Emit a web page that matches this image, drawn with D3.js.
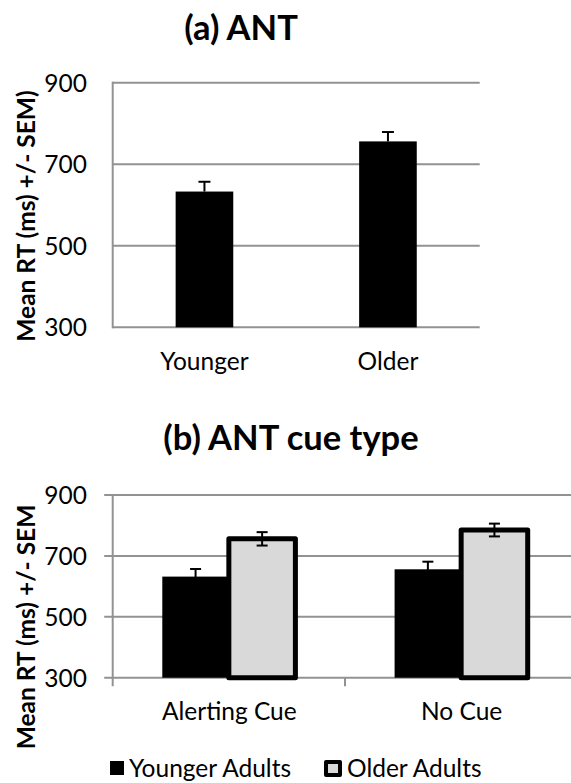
<!DOCTYPE html>
<html>
<head>
<meta charset="utf-8">
<script src="https://cdn.jsdelivr.net/npm/d3@7"></script>
<style>
  html, body { margin: 0; padding: 0; background: #fff; }
  svg { display: block; }
  text { font-family: Lato, "Open Sans", sans-serif; fill: #000; }
</style>
</head>
<body>
<svg id="chart" width="571" height="783"></svg>
<script>
// ---- Data ----
const antGroups = ["Younger", "Older"];
const antMeans = [633, 756];
const antSEM = [24, 23];

const cueTypes = ["Alerting Cue", "No Cue"];
const cueSeries = ["Younger Adults", "Older Adults"];
const youngerCueMeans = [632, 656];
const youngerCueSEM = [25, 25];
const olderCueMeans = [756, 785];
const olderCueSEM = [22, 21];

const yTicks = [300, 500, 700, 900];
const yDomain = [300, 900];

// ---- Styling ----
const GRID = "#929292";
const OLDER_FILL = "#d9d9d9";
const LABEL_SIZE = 24.5;
const TITLE_SIZE = 34.5;
const AXIS_TITLE_SIZE = 24.5;

const svg = d3.select("#chart");

function yAxisText(g, y, x) {
  g.selectAll(null).data(yTicks).join("text")
    .attr("x", x)
    .attr("y", d => y(d))
    .attr("dy", "0.36em")
    .attr("text-anchor", "end")
    .style("font-size", LABEL_SIZE + "px")
    .text(d => d);
}

function errorBars(g, xs, ys, sems, y, capW, upOnly) {
  const data = xs.map((x, i) => ({ x, v: ys[i], e: sems[i] }));
  const eg = g.append("g").attr("stroke", "#000").attr("stroke-width", 2).attr("fill", "none");
  eg.selectAll(null).data(data).join("line")
    .attr("x1", d => d.x).attr("x2", d => d.x)
    .attr("y1", d => y(upOnly ? d.v : d.v - d.e))
    .attr("y2", d => y(d.v + d.e));
  eg.selectAll(null).data(data).join("line")
    .attr("x1", d => d.x - capW / 2).attr("x2", d => d.x + capW / 2)
    .attr("y1", d => y(d.v + d.e)).attr("y2", d => y(d.v + d.e));
  if (!upOnly) {
    eg.selectAll(null).data(data).join("line")
      .attr("x1", d => d.x - capW / 2).attr("x2", d => d.x + capW / 2)
      .attr("y1", d => y(d.v - d.e)).attr("y2", d => y(d.v - d.e));
  }
}

// ================= Panel (a) =================
{
  const left = 112.7, right = 479.7, top = 82.7, bottom = 327.3;
  const g = svg.append("g");
  const x = d3.scaleBand().domain(antGroups).range([left, right]).padding(0);
  const y = d3.scaleLinear().domain(yDomain).range([bottom, top]);
  const barW = x.bandwidth() * 0.314;

  g.append("text")
    .attr("x", 241).attr("y", 40)
    .attr("text-anchor", "middle")
    .style("font-size", TITLE_SIZE + "px").style("font-weight", 700)
    .text("(a) ANT");

  // gridlines
  g.append("g").selectAll("line").data(yTicks).join("line")
    .attr("x1", left).attr("x2", right)
    .attr("y1", d => y(d)).attr("y2", d => y(d))
    .attr("stroke", GRID).attr("stroke-width", 2);
  g.append("line")
    .attr("x1", left).attr("x2", left).attr("y1", top - 1).attr("y2", bottom + 1)
    .attr("stroke", GRID).attr("stroke-width", 2);

  yAxisText(g, y, 87);

  g.append("text")
    .attr("transform", `translate(35,216) rotate(-90)`)
    .attr("text-anchor", "middle")
    .style("font-size", AXIS_TITLE_SIZE + "px").style("font-weight", 700)
    .text("Mean RT (ms) +/- SEM)");

  // bars
  const cx = antGroups.map(d => x(d) + x.bandwidth() / 2);
  g.append("g").selectAll("rect").data(antGroups).join("rect")
    .attr("x", (d, i) => cx[i] - barW / 2)
    .attr("width", barW)
    .attr("y", (d, i) => y(antMeans[i]))
    .attr("height", (d, i) => y(yDomain[0]) - y(antMeans[i]))
    .attr("fill", "#000");

  errorBars(g, cx, antMeans, antSEM, y, 12, true);

  // category labels
  g.append("g").selectAll("text").data(antGroups).join("text")
    .attr("x", (d, i) => cx[i]).attr("y", 370)
    .attr("text-anchor", "middle")
    .style("font-size", LABEL_SIZE + "px")
    .text(d => d);
}

// ================= Panel (b) =================
{
  const left = 112.7, right = 577.3, top = 495, bottom = 677.7;
  const g = svg.append("g");
  const x0 = d3.scaleBand().domain(cueTypes).range([left, right]).padding(0);
  const groupW = x0.bandwidth() * 0.573;
  const x1 = d3.scaleBand().domain(cueSeries).range([0, groupW]).padding(0);
  const y = d3.scaleLinear().domain(yDomain).range([bottom, top]);

  g.append("text")
    .attr("x", 291).attr("y", 450)
    .attr("text-anchor", "middle")
    .style("font-size", TITLE_SIZE + "px").style("font-weight", 700)
    .text("(b) ANT cue type");

  // gridlines with outward tick marks
  g.append("g").selectAll("line").data(yTicks).join("line")
    .attr("x1", left - 8.5).attr("x2", right)
    .attr("y1", d => y(d)).attr("y2", d => y(d))
    .attr("stroke", GRID).attr("stroke-width", 2);
  g.append("line")
    .attr("x1", left).attr("x2", left).attr("y1", top - 1).attr("y2", bottom + 8.5)
    .attr("stroke", GRID).attr("stroke-width", 2);
  // category boundary ticks
  g.append("g").selectAll("line").data(cueTypes.slice(1)).join("line")
    .attr("x1", d => x0(d)).attr("x2", d => x0(d))
    .attr("y1", bottom).attr("y2", bottom + 8.5)
    .attr("stroke", GRID).attr("stroke-width", 2);

  yAxisText(g, y, 87);

  g.append("text")
    .attr("transform", `translate(35,627) rotate(-90)`)
    .attr("text-anchor", "middle")
    .style("font-size", AXIS_TITLE_SIZE + "px").style("font-weight", 700)
    .text("Mean RT (ms) +/- SEM");

  const gx = c => x0(c) + (x0.bandwidth() - groupW) / 2;
  const bw = x1.bandwidth();

  // younger adults
  g.append("g").selectAll("rect").data(cueTypes).join("rect")
    .attr("x", d => gx(d) + x1(cueSeries[0]))
    .attr("width", bw)
    .attr("y", (d, i) => y(youngerCueMeans[i]))
    .attr("height", (d, i) => y(yDomain[0]) - y(youngerCueMeans[i]))
    .attr("fill", "#000");

  // older adults
  g.append("g").selectAll("rect").data(cueTypes).join("rect")
    .attr("x", d => gx(d) + x1(cueSeries[1]))
    .attr("width", bw)
    .attr("y", (d, i) => y(olderCueMeans[i]))
    .attr("height", (d, i) => y(yDomain[0]) - y(olderCueMeans[i]))
    .attr("fill", OLDER_FILL)
    .attr("stroke", "#000").attr("stroke-width", 5)
    .attr("stroke-linejoin", "round");

  const cxY = cueTypes.map(d => gx(d) + x1(cueSeries[0]) + bw / 2);
  const cxO = cueTypes.map(d => gx(d) + x1(cueSeries[1]) + bw / 2);
  errorBars(g, cxY, youngerCueMeans, youngerCueSEM, y, 11, false);
  errorBars(g, cxO, olderCueMeans, olderCueSEM, y, 11, false);

  g.append("g").selectAll("text").data(cueTypes).join("text")
    .attr("x", d => x0(d) + x0.bandwidth() / 2 + 0.5).attr("y", 720)
    .attr("text-anchor", "middle")
    .style("font-size", LABEL_SIZE + "px")
    .text(d => d);

  // legend
  const lg = g.append("g");
  lg.append("rect").attr("x", 110).attr("y", 761).attr("width", 14).attr("height", 14).attr("fill", "#000");
  lg.append("text").attr("x", 129).attr("y", 777)
    .style("font-size", LABEL_SIZE + "px").text(cueSeries[0]);
  lg.append("rect").attr("x", 326).attr("y", 762).attr("width", 14).attr("height", 13)
    .attr("fill", OLDER_FILL).attr("stroke", "#000").attr("stroke-width", 4)
    .attr("stroke-linejoin", "round");
  lg.append("text").attr("x", 347).attr("y", 777)
    .style("font-size", LABEL_SIZE + "px").text(cueSeries[1]);
}
</script>
</body>
</html>
